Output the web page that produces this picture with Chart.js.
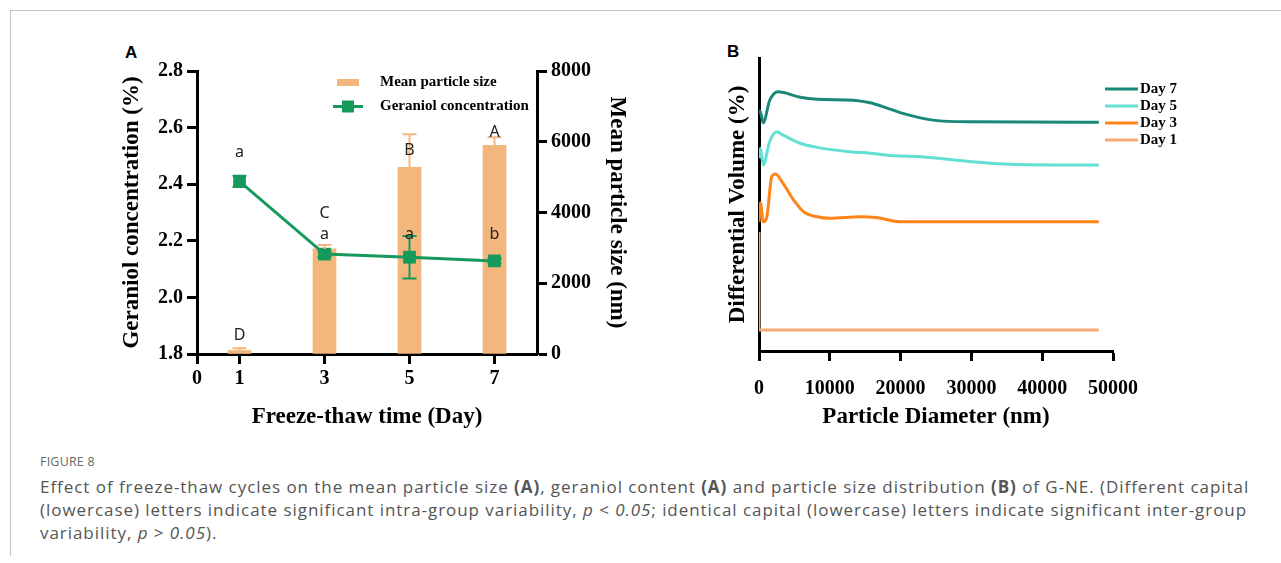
<!DOCTYPE html>
<html>
<head>
<meta charset="utf-8">
<script src="https://cdn.jsdelivr.net/npm/chart.js@4.4.1/dist/chart.umd.min.js"></script>
<style>
body{margin:0;background:#fff;width:1281px;height:563px;overflow:hidden;position:relative;font-family:'Open Sans',sans-serif}
#frame{position:absolute;left:10px;top:10px;width:1275px;height:545px;border-top:1px solid #c4c4c4;border-left:1px solid #c4c4c4}
canvas{position:absolute}
#cA{left:100px;top:30px}
#cB{left:690px;top:30px}
.pl{position:absolute;font:bold 17px 'Liberation Sans',Arial,sans-serif;line-height:16px;color:#000}
#fig{position:absolute;left:40px;top:453px;font-size:12.5px;color:#666;letter-spacing:0.2px}
#cap{position:absolute;left:40px;top:475px;font-size:17px;line-height:23px;color:#555;white-space:nowrap;letter-spacing:0.95px}
</style>
</head>
<body>
<div id="frame"></div>
<div class="pl" style="left:125px;top:45px">A</div>
<div class="pl" style="left:727px;top:44px">B</div>
<canvas id="cA" width="560" height="420"></canvas>
<canvas id="cB" width="560" height="420"></canvas>
<div id="fig">FIGURE 8</div>
<div id="cap">Effect of freeze-thaw cycles on the mean particle size <b>(A)</b>, geraniol content <b>(A)</b> and particle size distribution <b>(B)</b> of G-NE. (Different capital<br>(lowercase) letters indicate significant intra-group variability, <i>p</i> &lt; <i>0.05</i>; identical capital (lowercase) letters indicate significant inter-group<br>variability, <i>p</i> &gt; <i>0.05</i>).</div>

<script>
// panel A data
var days = [1, 3, 5, 7];
var xTicksA = [0, 1, 3, 5, 7];
var sizeMean = [100, 2970, 5275, 5900];
var sizeErr = [60, 110, 940, 230];
var geraniol = [2.41, 2.153, 2.142, 2.129];
var geraniolErr = [0.02, 0.01, 0.075, 0.008];
var sizeLetters = ['D', 'C', 'B', 'A'];
var geraniolLetters = ['a', 'a', 'a', 'b'];

// panel B data
var d7x = [0, 150, 600, 1500, 2700, 3500, 5800, 8200, 13300, 15700, 18000, 20300, 24600, 29400, 48000];
var d7y = [81.1, 81.9, 77.9, 85.5, 88.5, 88.2, 86.6, 85.9, 85.6, 84.7, 83.0, 81.1, 78.8, 78.2, 78.1];
var d5x = [0, 200, 600, 1500, 2500, 3400, 5800, 8200, 12800, 15700, 19300, 22900, 30000, 34600, 41700, 48000];
var d5y = [65.8, 69.2, 63.5, 71.4, 74.8, 73.7, 70.9, 69.5, 68.0, 67.5, 66.6, 66.3, 64.6, 63.8, 63.5, 63.5];
var d3x = [0, 200, 600, 1100, 1800, 2300, 3400, 4900, 6300, 8200, 10000, 14300, 16500, 20000, 48000];
var d3y = [44.1, 50.6, 44.1, 45.7, 59.5, 60.4, 57.2, 51.5, 47.5, 45.8, 45.3, 45.8, 45.6, 44.1, 44.1];
var d1x = [0, 0, 48000];
var d1y = [40.6, 7.2, 7.2];

var serifB = "'Liberation Serif','Times New Roman',serif";
var green = '#169a5c', orange = '#f3b67c';

function pts(xs, ys) { return xs.map(function (x, i) { return {x: x, y: ys[i]}; }); }

function fixW(w) { return function (s) { s.width = w; s.paddingTop = 0; s.paddingBottom = 0; s.paddingLeft = 0; s.paddingRight = 0; }; }
function fixH(h) { return function (s) { s.height = h; s.paddingTop = 0; s.paddingBottom = 0; s.paddingLeft = 0; s.paddingRight = 0; }; }
function plain(v) { return String(v); }

var tickFont = {family: serifB, size: 20, weight: 'bold'};
var titleFont = {family: serifB, size: 23, weight: 'bold'};
var axisGrid = {drawOnChartArea: false, tickLength: 10, tickColor: '#000', tickWidth: 3};
var axisBorder = {color: '#000', width: 3};

// error bars + letters for panel A
var extrasA = {
  id: 'extrasA',
  afterDatasetsDraw: function (chart, args, o) {
    var ctx = chart.ctx, x = chart.scales.x, yl = chart.scales.y, yr = chart.scales.y1;
    ctx.save();
    ctx.lineWidth = 2;
    days.forEach(function (d, i) {
      var px = x.getPixelForValue(d);
      // bar error (upper only)
      ctx.strokeStyle = orange;
      var t = yr.getPixelForValue(sizeMean[i] + sizeErr[i]), b = yr.getPixelForValue(sizeMean[i]);
      ctx.beginPath(); ctx.moveTo(px, b); ctx.lineTo(px, t); ctx.moveTo(px - 7, t); ctx.lineTo(px + 7, t); ctx.stroke();
      // line error
      ctx.strokeStyle = green;
      var t2 = yl.getPixelForValue(geraniol[i] + geraniolErr[i]), b2 = yl.getPixelForValue(geraniol[i] - geraniolErr[i]);
      ctx.beginPath(); ctx.moveTo(px, b2); ctx.lineTo(px, t2);
      ctx.moveTo(px - 7, t2); ctx.lineTo(px + 7, t2); ctx.moveTo(px - 7, b2); ctx.lineTo(px + 7, b2); ctx.stroke();
    });
    ctx.fillStyle = '#222';
    ctx.font = "16px 'Noto Sans','Open Sans',sans-serif";
    ctx.textAlign = 'center'; ctx.textBaseline = 'middle';
    days.forEach(function (d, i) {
      var px = x.getPixelForValue(d);
      ctx.fillText(sizeLetters[i], px, yr.getPixelForValue(o.sizeLetterAt[i]));
      ctx.fillText(geraniolLetters[i], px, yl.getPixelForValue(o.geraniolLetterAt[i]));
    });
    ctx.restore();
  }
};

var legendA = {
  id: 'legendA',
  afterDraw: function (chart) {
    var ctx = chart.ctx;
    ctx.save();
    ctx.fillStyle = orange;
    ctx.fillRect(237, 49, 22, 7);
    ctx.strokeStyle = green; ctx.lineWidth = 3;
    ctx.beginPath(); ctx.moveTo(233, 76.5); ctx.lineTo(263, 76.5); ctx.stroke();
    ctx.fillStyle = green; ctx.fillRect(242, 70.5, 12, 12);
    ctx.fillStyle = '#000';
    ctx.font = "bold 15px " + serifB;
    ctx.textBaseline = 'middle';
    ctx.fillText('Mean particle size', 280, 52);
    ctx.fillText('Geraniol concentration', 280, 76.5);
    ctx.restore();
  }
};

new Chart(document.getElementById('cA'), {
  type: 'bar',
  data: {
    datasets: [
      {type: 'line', label: 'Geraniol concentration', data: pts(days, geraniol), yAxisID: 'y',
        borderColor: green, borderWidth: 3, pointStyle: 'rect', pointRadius: 9, pointBorderWidth: 0,
        pointBackgroundColor: green, tension: 0, order: 0},
      {type: 'bar', label: 'Mean particle size', data: pts(days, sizeMean), yAxisID: 'y1',
        backgroundColor: orange, barThickness: 23, order: 1}
    ]
  },
  options: {
    responsive: false, animation: false,
    layout: {padding: {left: 0, right: 0, top: 41, bottom: 0}},
    plugins: {legend: {display: false}, tooltip: {enabled: false},
      extrasA: {sizeLetterAt: [537, 3985, 5766, 6275], geraniolLetterAt: [2.514, 2.224, 2.224, 2.224]}},
    scales: {
      x: {type: 'linear', min: 0, max: 8, offset: false, afterFit: fixH(96),
        afterBuildTicks: function (s) { s.ticks = xTicksA.map(function (v) { return {value: v}; }); },
        grid: Object.assign({offset: false}, axisGrid), border: axisBorder,
        ticks: {font: tickFont, color: '#000', padding: 3, maxRotation: 0, autoSkip: false, callback: plain},
        title: {display: true, text: 'Freeze-thaw time (Day)', font: titleFont, color: '#000', padding: {bottom: 19}}},
      y: {position: 'left', min: 1.8, max: 2.8, afterFit: fixW(97),
        grid: axisGrid, border: axisBorder,
        ticks: {stepSize: 0.2, font: tickFont, color: '#000', padding: 4,
          callback: function (v) { return v.toFixed(1); }},
        title: {display: true, text: 'Geraniol concentration (%)', font: titleFont, color: '#000', padding: {top: 18}}},
      y1: {position: 'right', min: 0, max: 8000, afterFit: fixW(123),
        grid: axisGrid, border: axisBorder,
        ticks: {stepSize: 2000, font: tickFont, color: '#000', padding: 4, callback: plain},
        title: {display: true, text: 'Mean particle size (nm)', font: titleFont, color: '#000', padding: {top: 29}}}
    }
  },
  plugins: [extrasA, legendA]
});

var legendB = {
  id: 'legendB',
  afterDraw: function (chart) {
    var ctx = chart.ctx;
    ctx.save();
    ctx.font = "bold 15px " + serifB;
    ctx.textBaseline = 'middle';
    chart.data.datasets.forEach(function (ds, i) {
      var y = 59 + i * 17;
      ctx.strokeStyle = ds.borderColor; ctx.lineWidth = 3;
      ctx.beginPath(); ctx.moveTo(415, y); ctx.lineTo(448, y); ctx.stroke();
      ctx.fillStyle = '#000';
      ctx.fillText(ds.label, 450, y);
    });
    ctx.restore();
  }
};

function curve(label, xs, ys, color, smooth) {
  return {label: label, data: pts(xs, ys), borderColor: color, borderWidth: 3, pointRadius: 0,
    tension: smooth ? 0.4 : 0, cubicInterpolationMode: smooth ? 'monotone' : 'default', fill: false};
}

new Chart(document.getElementById('cB'), {
  type: 'line',
  data: {
    datasets: [
      curve('Day 7', d7x, d7y, '#1a8878', true),
      curve('Day 5', d5x, d5y, '#62e0d6', true),
      curve('Day 3', d3x, d3y, '#ff8519', true),
      curve('Day 1', d1x, d1y, '#f6ab74', false)
    ]
  },
  options: {
    responsive: false, animation: false,
    layout: {padding: {left: 0, right: 137, top: 28, bottom: 0}},
    plugins: {legend: {display: false}, tooltip: {enabled: false}},
    scales: {
      x: {type: 'linear', min: 0, max: 50000, afterFit: fixH(99),
        grid: axisGrid, border: axisBorder,
        ticks: {stepSize: 10000, font: tickFont, color: '#000', padding: 16, maxRotation: 0, autoSkip: false, callback: plain},
        title: {display: true, text: 'Particle Diameter (nm)', font: titleFont, color: '#000', padding: {bottom: 19}}},
      y: {min: 0, max: 100, afterFit: fixW(69),
        grid: {display: false}, border: axisBorder, ticks: {display: false},
        title: {display: true, text: 'Differential Volume (%)', font: titleFont, color: '#000', padding: {top: 34}}}
    }
  },
  plugins: [legendB]
});
</script>
</body>
</html>
